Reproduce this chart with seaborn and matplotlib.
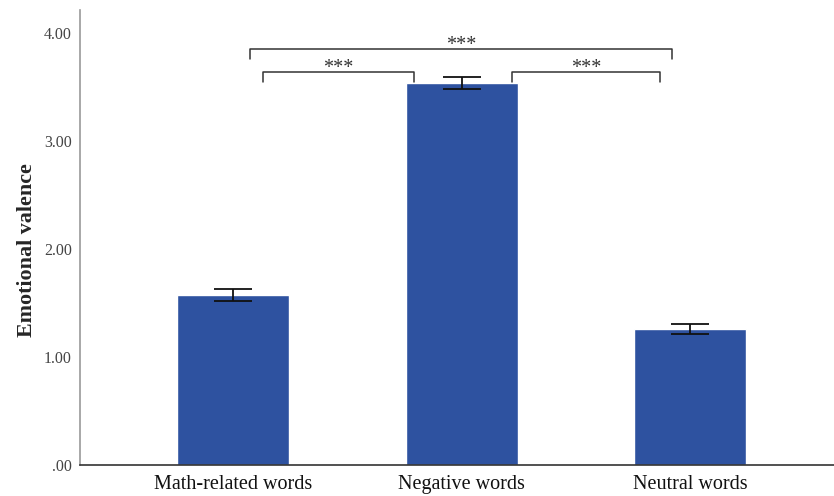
import matplotlib
matplotlib.use("Agg")
import matplotlib.pyplot as plt
import seaborn as sns
import pandas as pd

categories = ["Math-related words", "Negative words", "Neutral words"]
means = [1.575, 3.535, 1.26]
errors = [0.055, 0.055, 0.045]
y_ticks = [0.0, 1.0, 2.0, 3.0, 4.0]
y_tick_labels = [".00", "1.00", "2.00", "3.00", "4.00"]
# pairwise comparisons: (left, right, height, label)
comparisons = [(0, 2, 3.85, "***"), (0, 1, 3.64, "***"), (1, 2, 3.64, "***")]

sns.set_theme(style="white")
plt.rcParams["font.family"] = ["Liberation Serif", "DejaVu Serif"]

df = pd.DataFrame({"category": categories, "mean": means})

fig = plt.figure(figsize=(8.34, 4.96), dpi=100)
ax = fig.add_axes([0.096, 0.0625, 0.904, 0.9175])

sns.barplot(data=df, x="category", y="mean", color="#2e52a0", saturation=1,
            width=0.49, errorbar=None, ax=ax)
ax.errorbar(range(len(categories)), means, yerr=errors, fmt="none",
            ecolor="#111111", elinewidth=1.3, capsize=14, capthick=1.3)

bar_offsets = {
    (0, 2): (0.075, -0.08),
    (0, 1): (0.13, -0.21),
    (1, 2): (0.22, -0.13),
}
for left, right, h, label in comparisons:
    dl, dr = bar_offsets[(left, right)]
    x1, x2 = left + dl, right + dr
    drop = 0.09
    ax.plot([x1, x1, x2, x2], [h - drop, h, h, h - drop], color="#333333",
             lw=1.1, solid_joinstyle="round")
    ax.text((x1 + x2) / 2, h - 0.055, label, ha="center", va="bottom",
            fontsize=14.5, color="#333333")

ax.set_xlim(-0.67, 2.63)
ax.set_ylim(0, 4.213)
ax.set_yticks(y_ticks)
ax.set_yticklabels(y_tick_labels, fontsize=11.5, color="#444444")
ax.tick_params(axis="x", labelsize=14.5, colors="#111111", length=0, pad=7)
ax.tick_params(axis="y", length=0, pad=6)
ax.set_xlabel("")
ax.set_ylabel("Emotional valence", fontsize=15.8, fontweight="bold",
              labelpad=5, y=0.4725)

for side in ["top", "right"]:
    ax.spines[side].set_visible(False)
ax.spines["left"].set_color("#999999")
ax.spines["left"].set_linewidth(1.2)
ax.spines["bottom"].set_color("#333333")
ax.spines["bottom"].set_linewidth(1.2)

fig.savefig("out.png", dpi=100)
